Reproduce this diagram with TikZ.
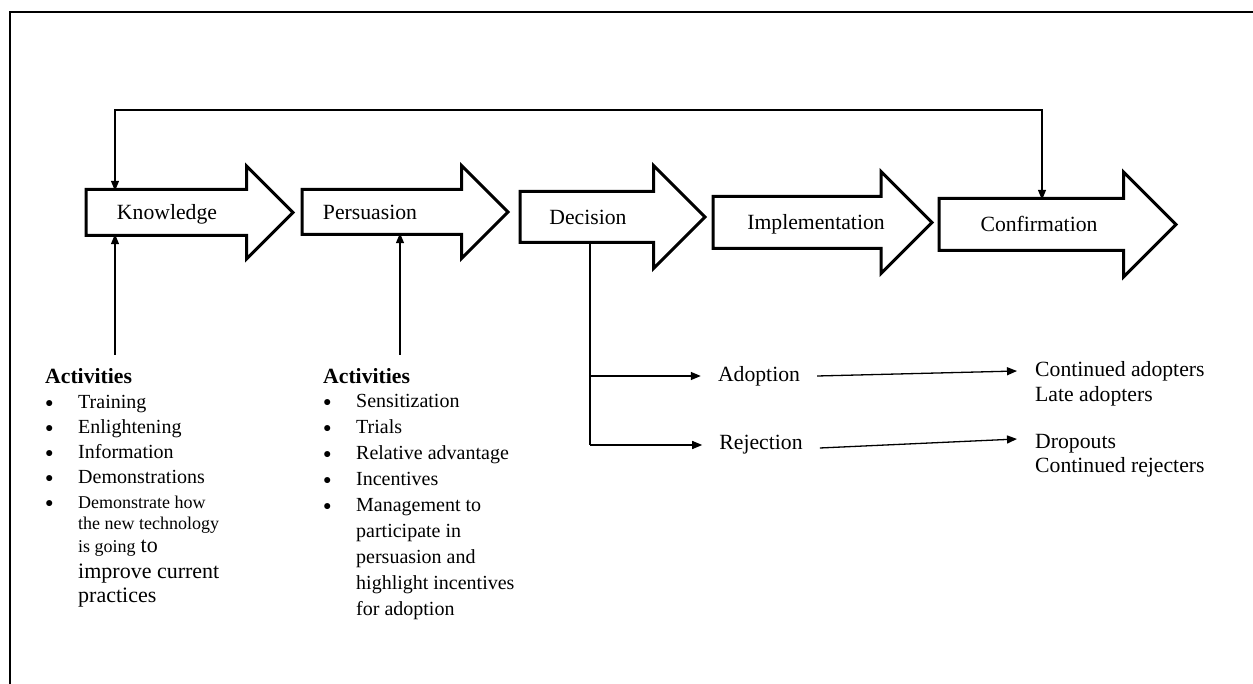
\documentclass[tikz,border=0pt]{standalone}
\usepackage{fontspec}
\setmainfont{Liberation Serif}
\usetikzlibrary{arrows.meta,shapes.arrows}
\newcommand{\fsz}[1]{\fontsize{#1}{#1}\selectfont}
\newcommand{\itm}{\makebox[33pt][l]{\raisebox{1pt}{\fsz{14}●}}}
\newcommand{\cnt}{\hspace*{33pt}}
\tikzset{
  stage/.style={single arrow,draw=black,line width=3pt,fill=white,inner xsep=0pt,
    outer sep=0pt,single arrow tip angle=90,anchor=tail},
  stl/.style={font=\fontsize{21.7}{26}\selectfont,inner sep=0pt,text height=15pt,text depth=0pt},
  con/.style={draw=black,line width=1.3pt},
  arr/.style={con,-{Triangle[length=10pt,width=8pt]}},
  act/.style={align=left,inner sep=0pt,anchor=north west},
  res/.style={font=\fontsize{21.7}{26}\selectfont,inner xsep=17pt,inner ysep=0pt},
  outc/.style={font=\fontsize{21.7}{26}\selectfont,inner xsep=18pt,inner ysep=0pt,anchor=west},
}
\begin{document}
\begin{tikzpicture}[x=1pt,y=-1pt]
\useasboundingbox (0,0) rectangle (1253,684);
% frame, cut at the right and at the bottom
\draw[line width=2pt] (10,684) -- (10,12) -- (1253,12);

% the five stages
\node[stage,minimum height=207pt,inner ysep=21.5pt,single arrow head extend=23.5pt] (know) at (86,212.5) {};
\node[stage,minimum height=206pt,inner ysep=21pt,single arrow head extend=24pt] (pers) at (302,212) {};
\node[stage,minimum height=185pt,inner ysep=24pt,single arrow head extend=26pt] (dec) at (520,217) {};
\node[stage,minimum height=219pt,inner ysep=24.5pt,single arrow head extend=25pt] (impl) at (713,222.5) {};
\node[stage,minimum height=237pt,inner ysep=24.5pt,single arrow head extend=26.5pt] (conf) at (939,224.5) {};
\node[stl,minimum height=43pt] (knowT) at (167,212.5) {Knowledge};
\node[stl,minimum height=42pt] (persT) at (370,212) {Persuasion};
\node[stl,minimum height=48pt] (decT) at (588,217) {Decision};
\node[stl,minimum height=49pt] (implT) at (816,222.5) {Implementation};
\node[stl,minimum height=49pt] (confT) at (1039,224.5) {Confirmation};

% feedback from confirmation back to knowledge
\coordinate (fbK) at (115,110);
\coordinate (fbC) at (1042,110);
\draw[con,{Triangle[length=10pt,width=8pt]}-{Triangle[length=10pt,width=8pt]}]
  (fbK |- knowT.north) -- (fbK) -- (fbC) -- (fbC |- confT.north);

% activities under knowledge and persuasion
\node[act,font=\fontsize{20}{25}\selectfont] (actK) at (45,368) {%
  {\fsz{21.7}\bfseries Activities}\\
  \itm Training\\
  \itm Enlightening\\
  \itm Information\\
  \itm Demonstrations\\
  \itm{\fsz{18}Demonstrate how}\\[-4pt]
  \cnt{\fsz{18}the new technology}\\[-2pt]
  \cnt{\fsz{18}is going} {\fsz{22}to}\\[1pt]
  \cnt{\fsz{22}improve current}\\[-1pt]
  \cnt{\fsz{22}practices}};
\node[act,font=\fontsize{20}{26}\selectfont] (actP) at (323,368) {%
  {\fsz{21.7}\bfseries Activities}\\[-2pt]
  \itm Sensitization\\
  \itm Trials\\
  \itm Relative advantage\\
  \itm Incentives\\
  \itm Management to\\
  \cnt participate in\\
  \cnt persuasion and\\
  \cnt highlight incentives\\
  \cnt for adoption};
\coordinate (kin) at (115,355);
\coordinate (pin) at (400,355);
\draw[arr] (kin) -- (kin |- knowT.south);
\draw[arr] (pin) -- (pin |- persT.south);

% outcomes of the decision
\node[res] (adopt) at (759,376) {Adoption};
\node[res] (rej) at (761,445) {Rejection};
\node[outc] (contad) at (1017,371) {Continued adopters};
\node[outc] (latead) at (1017,396) {Late adopters};
\node[outc] (drop) at (1017,444) {Dropouts};
\node[outc] (contrej) at (1017,467) {Continued rejecters};
\coordinate (split) at (590,241);
\draw[con] (split) -- (split |- rej.west);
\draw[arr] (split |- adopt.west) -- (adopt.west);
\draw[arr] (split |- rej.west) -- (rej.west);
\draw[arr] (adopt.east) -- (contad.west);
\draw[arr] ([yshift=-3pt]rej.east) -- ([yshift=5pt]drop.west);
\end{tikzpicture}
\end{document}
